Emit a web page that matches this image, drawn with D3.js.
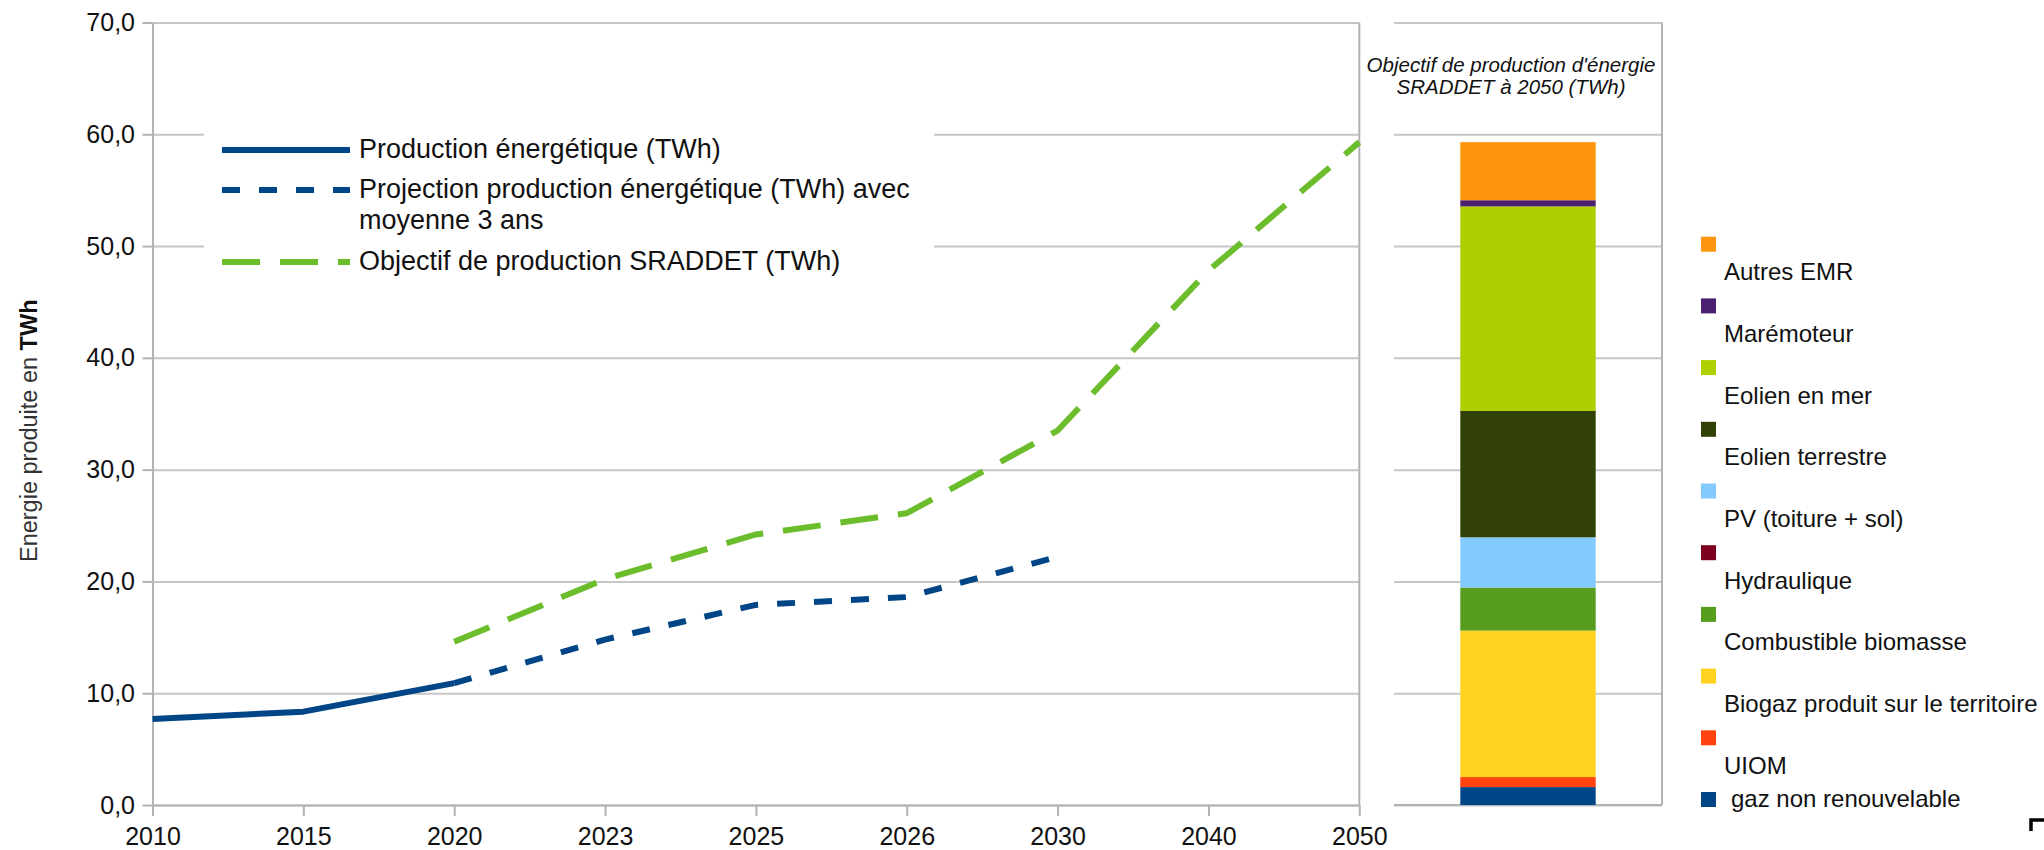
<!DOCTYPE html>
<html>
<head>
<meta charset="utf-8">
<script src="https://cdn.jsdelivr.net/npm/d3@7"></script>
<style>
  body { margin: 0; background: #fff; }
  svg { display: block; }
  text { font-family: "Liberation Sans", Arial, sans-serif; }
</style>
</head>
<body>
<svg id="chart" width="2044" height="850"></svg>
<script>
// ---------------- DATA ----------------
const years = ["2010", "2015", "2020", "2023", "2025", "2026", "2030", "2040", "2050"];
const productionYears = ["2010", "2015", "2020"];
const productionValues = [7.7, 8.35, 10.9];
const projectionYears = ["2020", "2023", "2025", "2026", "2030"];
const projectionValues = [10.9, 14.8, 17.9, 18.6, 22.2];
const objectiveYears = ["2020", "2023", "2025", "2026", "2030", "2040", "2050"];
const objectiveValues = [14.6, 20.2, 24.2, 26.1, 33.5, 47.8, 59.3];
const yTicks = [0, 10, 20, 30, 40, 50, 60, 70];
const seriesNames = [
  "Production énergétique (TWh)",
  "Projection production énergétique (TWh) avec|moyenne 3 ans",
  "Objectif de production SRADDET (TWh)"
];
const yTitle = "Energie produite en ";
const yTitleBold = "TWh";

// stacked bar (bottom to top)
const mixCategory = ["2050"];
const mixNames = ["gaz non renouvelable", "UIOM", "Biogaz produit sur le territoire",
  "Combustible biomasse", "Hydraulique", "PV (toiture + sol)", "Eolien terrestre",
  "Eolien en mer", "Marémoteur", "Autres EMR"];
const mixValues = [1.6, 0.9, 13.1, 3.85, 0.0, 4.5, 11.3, 18.3, 0.55, 5.2];
const mixColors = ["#004586", "#ff420e", "#ffd320", "#579d1c", "#7e0021", "#83caff",
  "#314004", "#aecf00", "#4b1f6f", "#ff950e"];
const panelTitle = ["Objectif de production d'énergie", "SRADDET à 2050 (TWh)"];

// ---------------- LAYOUT ----------------
const svg = d3.select("#chart");
const BLUE = "#004586", GREEN = "#6cbd2c", GRID = "#c6c6c6", AXIS = "#b3b3b3";
const plotL = 152.5, plotR = 1359.3, plotT = 22.5, plotB = 805;

const x = d3.scalePoint().domain(years).range([plotL, plotR]);
const y = d3.scaleLinear().domain([0, 70]).range([plotB, plotT]);
const fmt = d => d3.format(".1f")(d).replace(".", ",");

// gridlines main
const grid = svg.append("g").attr("transform", `translate(${plotL},0)`)
  .call(d3.axisLeft(y).tickValues(yTicks).tickSize(-(plotR - plotL)).tickFormat(""));
grid.select(".domain").remove();
grid.selectAll("line").attr("stroke", GRID).attr("stroke-width", 2);

// y axis
const ya = svg.append("g").attr("transform", `translate(${plotL},0)`)
  .call(d3.axisLeft(y).tickValues(yTicks).tickSize(10).tickSizeOuter(0).tickPadding(7.5).tickFormat(fmt));
ya.select(".domain").attr("stroke", AXIS).attr("stroke-width", 2);
ya.selectAll("line").attr("stroke", AXIS).attr("stroke-width", 2);
ya.selectAll("text").attr("font-size", 25).attr("fill", "#111")
  .attr("font-family", '"Liberation Sans", Arial, sans-serif');

// right border
svg.append("line").attr("x1", plotR).attr("x2", plotR).attr("y1", y(70)).attr("y2", y(0))
  .attr("stroke", AXIS).attr("stroke-width", 2);

// x axis
const xa = svg.append("g").attr("transform", `translate(0,${plotB})`)
  .call(d3.axisBottom(x).tickSize(11).tickSizeOuter(0).tickPadding(11));
xa.select(".domain").attr("stroke", AXIS).attr("stroke-width", 2);
xa.selectAll("line").attr("stroke", AXIS).attr("stroke-width", 2);
xa.selectAll("text").attr("font-size", 25).attr("fill", "#111")
  .attr("font-family", '"Liberation Sans", Arial, sans-serif');

// y title
const yt = svg.append("text")
  .attr("transform", `translate(37,${(y(70) + y(0)) / 2 + 17}) rotate(-90)`)
  .attr("text-anchor", "middle").attr("font-size", 23.5).attr("fill", "#333");
yt.append("tspan").text(yTitle);
yt.append("tspan").attr("font-weight", "bold").attr("fill", "#111").text(yTitleBold);

// legend (main)
svg.append("rect").attr("x", 204).attr("y", 118).attr("width", 730).attr("height", 174).attr("fill", "#fff");
const legendRows = [
  { name: seriesNames[0], color: BLUE, dash: null, ly: 150 },
  { name: seriesNames[1], color: BLUE, dash: "18,19", ly: 190 },
  { name: seriesNames[2], color: GREEN, dash: "38,20", ly: 262 }
];
legendRows.forEach(r => {
  svg.append("line").attr("x1", 222).attr("x2", 350).attr("y1", r.ly).attr("y2", r.ly)
    .attr("stroke", r.color).attr("stroke-width", 6)
    .attr("stroke-dasharray", r.dash);
  const parts = r.name.split("|");
  const t = svg.append("text").attr("x", 359).attr("y", r.ly + 8.3)
    .attr("font-size", 27).attr("fill", "#111");
  parts.forEach((p, i) => t.append("tspan").attr("x", 359).attr("dy", i === 0 ? 0 : 31).text(p));
});

// lines
const line = d3.line().x(d => x(d[0])).y(d => y(d[1]));
const zip = (a, b) => a.map((v, i) => [v, b[i]]);
svg.append("path").datum(zip(objectiveYears, objectiveValues)).attr("d", line)
  .attr("fill", "none").attr("stroke", GREEN).attr("stroke-width", 6)
  .attr("stroke-dasharray", "38,20").attr("stroke-linejoin", "round");
svg.append("path").datum(zip(projectionYears, projectionValues)).attr("d", line)
  .attr("fill", "none").attr("stroke", BLUE).attr("stroke-width", 6)
  .attr("stroke-dasharray", "18,19").attr("stroke-linejoin", "round");
svg.append("path").datum(zip(productionYears, productionValues)).attr("d", line)
  .attr("fill", "none").attr("stroke", BLUE).attr("stroke-width", 6)
  .attr("stroke-linejoin", "round").attr("stroke-linecap", "butt");

// ---------------- RIGHT PANEL ----------------
const pL = 1394, pR = 1662;
const xb = d3.scaleBand().domain(mixCategory).range([pL, pR]).paddingInner(0).paddingOuter(0.49);
const pg = svg.append("g").attr("transform", `translate(${pL},0)`)
  .call(d3.axisLeft(y).tickValues(yTicks).tickSize(-(pR - pL)).tickFormat(""));
pg.select(".domain").remove();
pg.selectAll("line").attr("stroke", GRID).attr("stroke-width", 2);
svg.append("line").attr("x1", pR).attr("x2", pR).attr("y1", y(70)).attr("y2", y(0))
  .attr("stroke", AXIS).attr("stroke-width", 2);
svg.append("line").attr("x1", pL).attr("x2", pR).attr("y1", y(0)).attr("y2", y(0))
  .attr("stroke", AXIS).attr("stroke-width", 2);

const row = { cat: "2050" };
mixNames.forEach((n, i) => row[n] = mixValues[i]);
const stacked = d3.stack().keys(mixNames)([row]);
svg.append("g").selectAll("rect").data(stacked).join("rect")
  .attr("x", xb("2050")).attr("width", xb.bandwidth())
  .attr("y", d => y(d[0][1])).attr("height", d => y(d[0][0]) - y(d[0][1]))
  .attr("fill", (d, i) => mixColors[i]);

// panel title
const pt = svg.append("text").attr("text-anchor", "middle").attr("font-size", 20.5)
  .attr("font-style", "italic").attr("fill", "#111");
panelTitle.forEach((p, i) => pt.append("tspan").attr("x", 1511).attr("y", 71.5 + i * 22.5).text(p));

// right legend
const legItems = mixNames.map((n, i) => ({ n, c: mixColors[i] })).reverse();
const lg = svg.append("g");
legItems.forEach((it, i) => {
  const top = 236.7 + i * 61.7;
  lg.append("rect").attr("x", 1701).attr("y", top).attr("width", 15).attr("height", 15).attr("fill", it.c);
  const last = i === legItems.length - 1;
  lg.append("text").attr("x", last ? 1731 : 1724).attr("y", last ? top + 15 : top + 43.5)
    .attr("font-size", 24).attr("fill", "#111").text(it.n);
});

// corner mark
svg.append("path").attr("d", "M2031,831V820H2044").attr("fill", "none")
  .attr("stroke", "#000").attr("stroke-width", 3.5);
</script>
</body>
</html>
